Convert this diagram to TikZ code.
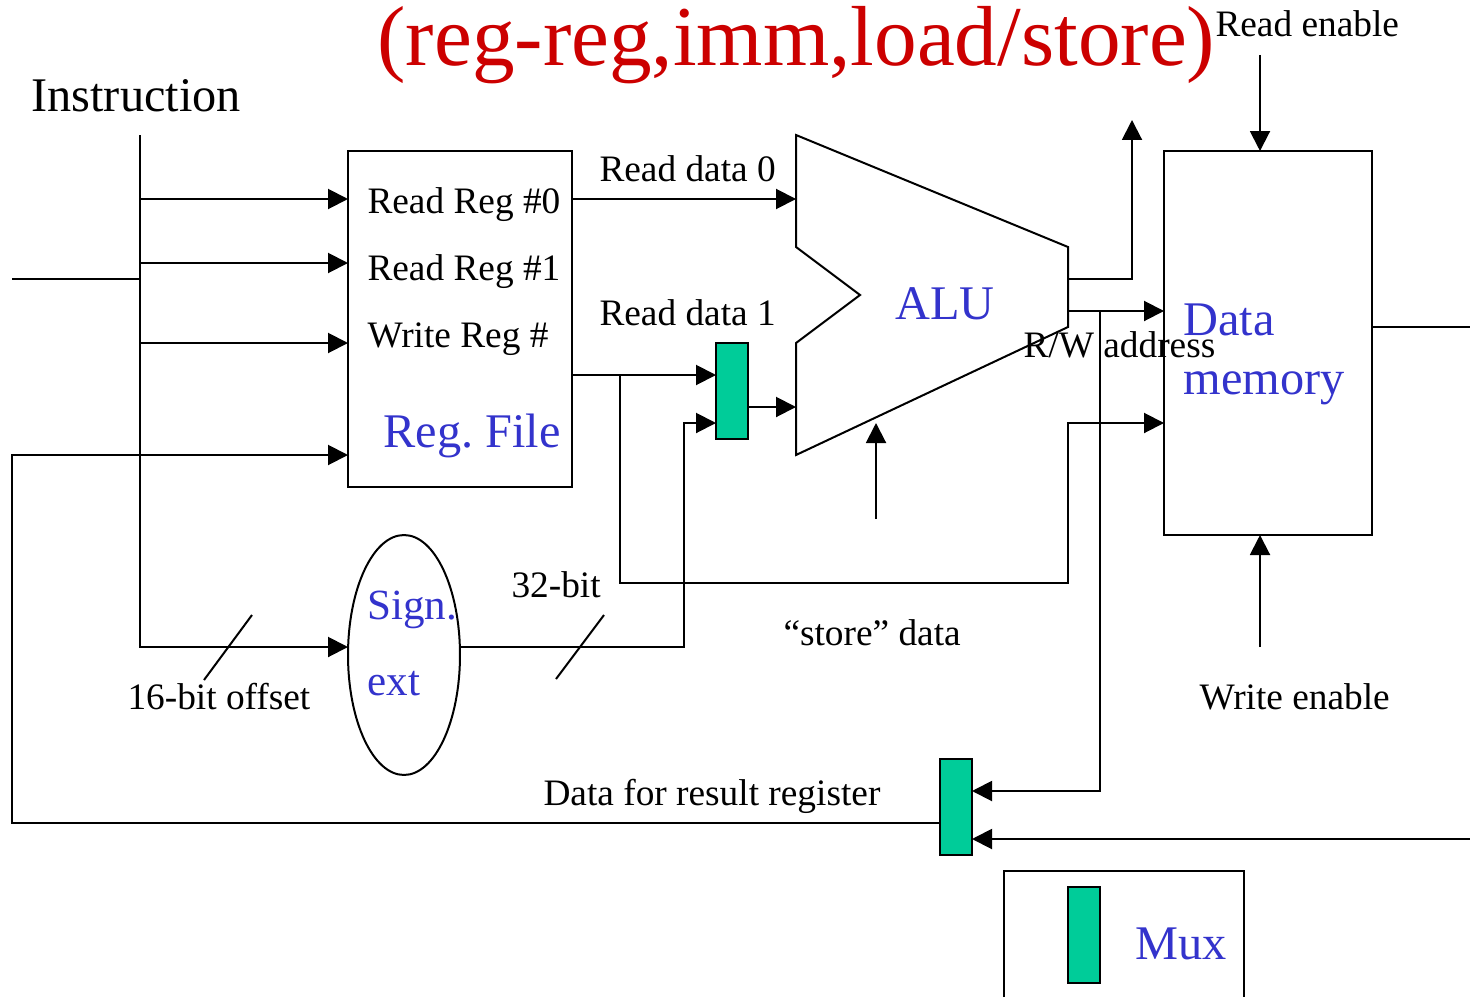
\documentclass[tikz,border=0pt]{standalone}
\usepackage{fontspec}
\setmainfont{Liberation Serif}
\usetikzlibrary{arrows.meta,shapes.geometric}
\definecolor{muxgreen}{RGB}{0,204,153}
\definecolor{labelblue}{RGB}{51,51,204}
\definecolor{titlered}{RGB}{204,0,0}
\tikzset{
  wire/.style={line width=0.04cm},
  arr/.style={wire,-{Triangle[length=0.4cm,width=0.4cm]}},
  block/.style={draw,line width=0.04cm,inner sep=0pt,outer sep=0pt},
  mux/.style={block,fill=muxgreen,minimum width=0.64cm,minimum height=1.92cm},
  txt/.style={anchor=base west,inner sep=0pt,outer sep=0pt,font=\fontsize{21.25}{24}\selectfont},
  big/.style={txt,font=\fontsize{27.5}{30}\selectfont},
  bigblue/.style={big,text=labelblue}
}
\begin{document}
\begin{tikzpicture}[x=0.02cm,y=-0.02cm]
  \useasboundingbox (0,0) rectangle (1470,997);

  %Blocks
  \node[block,minimum width=4.48cm,minimum height=6.72cm] (regfile) at (460,319) {};
  \node[block,minimum width=4.16cm,minimum height=7.68cm] (datamem) at (1268,343) {};
  \node[block,ellipse,minimum width=2.24cm,minimum height=4.8cm] (signext) at (404,655) {};
  \node[mux] (aluMux) at (732,391) {};
  \node[mux] (resultMux) at (956,807) {};
  \node[mux] (legendMux) at (1084,935) {};
  \draw[wire] (796,135) -- (1068,247) -- (1068,327) -- (796,455) -- (796,343) -- (860,295) -- (796,247) -- cycle; %ALU
  \draw[wire] (1004,997) -- (1004,871) -- (1244,871) -- (1244,997); %Legend

  %Instruction bus
  \coordinate (busTop) at (140,135);
  \coordinate (busIn) at (12,279);
  \coordinate (busTap) at (140,279);
  \coordinate (busEnd) at (140,647);
  \coordinate (signIn) at (348,647);
  \draw[wire] (busIn) -- (busTap);
  \draw[arr] (busTop) -- (busEnd) -- (signIn);
  \foreach \port/\y in {rr0/199,rr1/263,wr/343}{
    \coordinate (\port) at (348,\y);
    \coordinate (\port Tap) at (140,\y);
    \draw[arr] (\port Tap) -- (\port);
  }

  %Register file outputs
  \coordinate (rd0Out) at (572,199);
  \coordinate (rd0In) at (796,199);
  \coordinate (rd1Out) at (572,375);
  \coordinate (rd1In) at (716,375);
  \coordinate (rd1Tap) at (620,375);
  \coordinate (storeA) at (620,583);
  \coordinate (storeB) at (1068,583);
  \coordinate (storeC) at (1068,423);
  \coordinate (storeIn) at (1164,423);
  \draw[arr] (rd0Out) -- (rd0In);
  \draw[arr] (rd1Out) -- (rd1In);
  \draw[arr] (rd1Tap) -- (storeA) -- (storeB) -- (storeC) -- (storeIn);

  %Sign extension to mux
  \coordinate (signOut) at (460,647);
  \coordinate (immA) at (684,647);
  \coordinate (immB) at (684,423);
  \coordinate (immIn) at (716,423);
  \draw[arr] (signOut) -- (immA) -- (immB) -- (immIn);
  \coordinate (muxOut) at (748,407);
  \coordinate (aluIn) at (796,407);
  \draw[arr] (muxOut) -- (aluIn);
  \coordinate (slashA) at (204,680);
  \coordinate (slashB) at (252,615);
  \coordinate (slashC) at (556,679);
  \coordinate (slashD) at (604,615);
  \draw[wire] (slashA) -- (slashB);
  \draw[wire] (slashC) -- (slashD);

  %ALU control and outputs
  \coordinate (ctrlFrom) at (876,519);
  \coordinate (ctrlTo) at (876,423);
  \draw[arr] (ctrlFrom) -- (ctrlTo);
  \coordinate (zeroOut) at (1068,279);
  \coordinate (zeroA) at (1132,279);
  \coordinate (zeroB) at (1132,120);
  \draw[arr] (zeroOut) -- (zeroA) -- (zeroB);
  \coordinate (aluOut) at (1068,311);
  \coordinate (addrIn) at (1164,311);
  \coordinate (aluTap) at (1100,311);
  \coordinate (aluDown) at (1100,791);
  \coordinate (resA) at (972,791);
  \draw[arr] (aluOut) -- (addrIn);
  \draw[arr] (aluTap) -- (aluDown) -- (resA);

  %Data memory
  \coordinate (readFrom) at (1260,55);
  \coordinate (readTo) at (1260,151);
  \coordinate (writeFrom) at (1260,647);
  \coordinate (writeTo) at (1260,535);
  \coordinate (memOut) at (1372,327);
  \coordinate (memEnd) at (1470,327);
  \coordinate (loadFrom) at (1470,839);
  \coordinate (resB) at (972,839);
  \draw[arr] (readFrom) -- (readTo);
  \draw[arr] (writeFrom) -- (writeTo);
  \draw[wire] (memOut) -- (memEnd);
  \draw[arr] (loadFrom) -- (resB);

  %Result back to register file
  \coordinate (fbOut) at (940,823);
  \coordinate (fbA) at (12,823);
  \coordinate (fbB) at (12,455);
  \coordinate (fbIn) at (348,455);
  \draw[arr] (fbOut) -- (fbA) -- (fbB) -- (fbIn);

  %Texts
  \node[big,text=titlered,font=\fontsize{48.5}{52}\selectfont] (title) at (377.5,66) {(reg-reg,imm,load/store)};
  \node[big] (instrLabel) at (31.5,112) {Instruction};
  \node[txt] (rr0Label) at (367.5,213) {Read Reg \#0};
  \node[txt] (rr1Label) at (367.5,280) {Read Reg \#1};
  \node[txt] (wrLabel) at (367.5,347) {Write Reg \#};
  \node[bigblue] (regLabel) at (383.5,447) {Reg.\hspace{-0.08cm} File};
  \node[txt] (rd0Label) at (599.5,181) {Read data 0};
  \node[txt] (rd1Label) at (599.5,325) {Read data 1};
  \node[bigblue] (aluLabel) at (895.5,319) {ALU};
  \node[bigblue] (dataLabel) at (1183.5,335) {Data};
  \node[bigblue] (memLabel) at (1183.5,394) {memory};
  \node[txt] (addrLabel) at (1023.5,357) {R/W address};
  \node[txt] (readLabel) at (1215.5,37) {Read enable};
  \node[txt] (writeLabel) at (1199.5,709) {Write enable};
  \node[txt] (storeLabel) at (783.5,645) {“store” data};
  \node[txt] (wideLabel) at (511.5,597) {32-bit};
  \node[txt] (offsetLabel) at (127.5,709) {16-bit offset};
  \node[txt] (resLabel) at (543.5,805) {Data for result register};
  \node[bigblue,font=\fontsize{24.5}{28}\selectfont] (signLabel) at (367.5,619) {Sign.};
  \node[bigblue,font=\fontsize{24.5}{28}\selectfont] (extLabel) at (367.5,695) {ext};
  \node[bigblue] (muxLabel) at (1135.5,959) {Mux};
\end{tikzpicture}
\end{document}
